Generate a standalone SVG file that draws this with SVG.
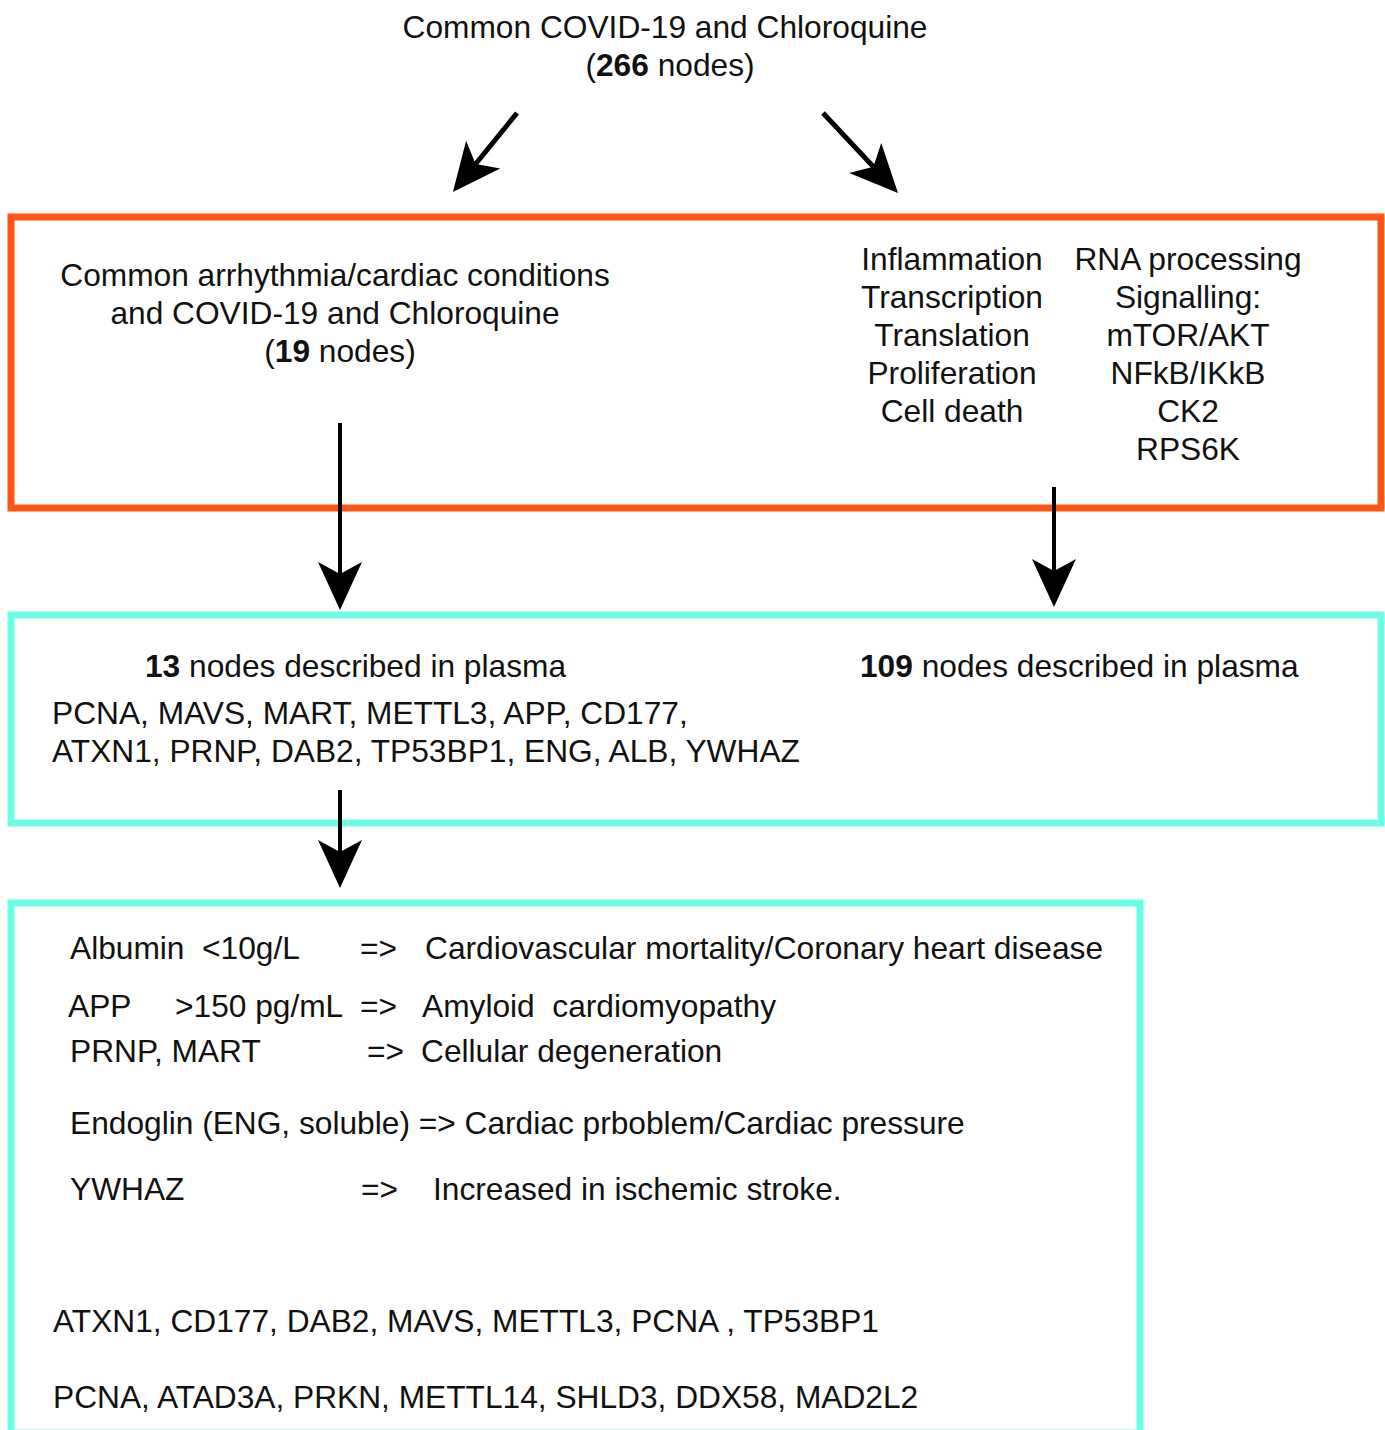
<svg xmlns="http://www.w3.org/2000/svg" width="1385" height="1430" viewBox="0 0 1385 1430">
<defs>
<style>
text{font-family:"Liberation Sans",Arial,sans-serif;font-size:31.7px;fill:#111;white-space:pre}
.c{text-anchor:middle}
.b{font-weight:bold}
.orange{fill:none;stroke:#FF5414;stroke-width:7}
.cyan{fill:none;stroke:#6CFFE6;stroke-width:7}
.conn{stroke:#000;fill:none;marker-end:url(#head)}
</style>
<marker id="head" markerUnits="userSpaceOnUse" viewBox="-14 -24 52 48" markerWidth="52" markerHeight="48" refX="0" refY="0" orient="auto">
<path d="M36,0 L-12,-22 L0,0 L-12,22 Z" fill="#000"/>
</marker>
</defs>
<rect width="1385" height="1430" fill="#fff"/>

<g id="top-node">
<text class="c" x="665" y="38">Common COVID-19 and Chloroquine</text>
<text class="c" x="670" y="76">(<tspan class="b">266</tspan> nodes)</text>
</g>

<g id="box-common">
<rect class="orange" x="11" y="217" width="1370" height="291"/>
<text class="c" x="335" y="286">Common arrhythmia/cardiac conditions</text>
<text class="c" x="335" y="324">and COVID-19 and Chloroquine</text>
<text class="c" x="340" y="362">(<tspan class="b">19</tspan> nodes)</text>
<text class="c" x="952" y="270">Inflammation</text>
<text class="c" x="952" y="308">Transcription</text>
<text class="c" x="952" y="346">Translation</text>
<text class="c" x="952" y="384">Proliferation</text>
<text class="c" x="952" y="422">Cell death</text>
<text class="c" x="1188" y="270">RNA processing</text>
<text class="c" x="1188" y="308">Signalling:</text>
<text class="c" x="1188" y="346">mTOR/AKT</text>
<text class="c" x="1188" y="384">NFkB/IKkB</text>
<text class="c" x="1188" y="422">CK2</text>
<text class="c" x="1188" y="460">RPS6K</text>
</g>

<g id="box-plasma">
<rect class="cyan" x="11" y="615" width="1370" height="208"/>
<text x="145" y="677"><tspan class="b">13</tspan> nodes described in plasma</text>
<text x="860" y="677"><tspan class="b">109</tspan> nodes described in plasma</text>
<text x="52" y="724">PCNA, MAVS, MART, METTL3, APP, CD177,</text>
<text x="52" y="762">ATXN1, PRNP, DAB2, TP53BP1, ENG, ALB, YWHAZ</text>
</g>

<g id="box-outcomes">
<rect class="cyan" x="11" y="903" width="1129" height="530"/>
<text x="70" y="959">Albumin  &lt;10g/L</text>
<text x="360" y="959">=&gt;</text>
<text x="425" y="959">Cardiovascular mortality/Coronary heart disease</text>
<text x="68" y="1017">APP</text>
<text x="175" y="1017">&gt;150 pg/mL</text>
<text x="360" y="1017">=&gt;</text>
<text x="422" y="1017">Amyloid  cardiomyopathy</text>
<text x="70" y="1062">PRNP, MART</text>
<text x="367" y="1062">=&gt;</text>
<text x="421" y="1062">Cellular degeneration</text>
<text x="70" y="1134">Endoglin (ENG, soluble) =&gt; Cardiac prboblem/Cardiac pressure</text>
<text x="70" y="1200">YWHAZ</text>
<text x="361" y="1200">=&gt;</text>
<text x="433" y="1200">Increased in ischemic stroke.</text>
<text x="53" y="1332">ATXN1, CD177, DAB2, MAVS, METTL3, PCNA , TP53BP1</text>
<text x="53" y="1408">PCNA, ATAD3A, PRKN, METTL14, SHLD3, DDX58, MAD2L2</text>
</g>

<g id="connectors">
<line class="conn" x1="517" y1="113" x2="475.6" y2="164" stroke-width="5"/>
<line class="conn" x1="823" y1="113" x2="873.4" y2="166.8" stroke-width="5"/>
<line class="conn" x1="340" y1="423" x2="340" y2="574" stroke-width="4"/>
<line class="conn" x1="1054" y1="487" x2="1054" y2="571" stroke-width="4"/>
<line class="conn" x1="340" y1="790" x2="340" y2="852" stroke-width="4"/>
</g>
</svg>
